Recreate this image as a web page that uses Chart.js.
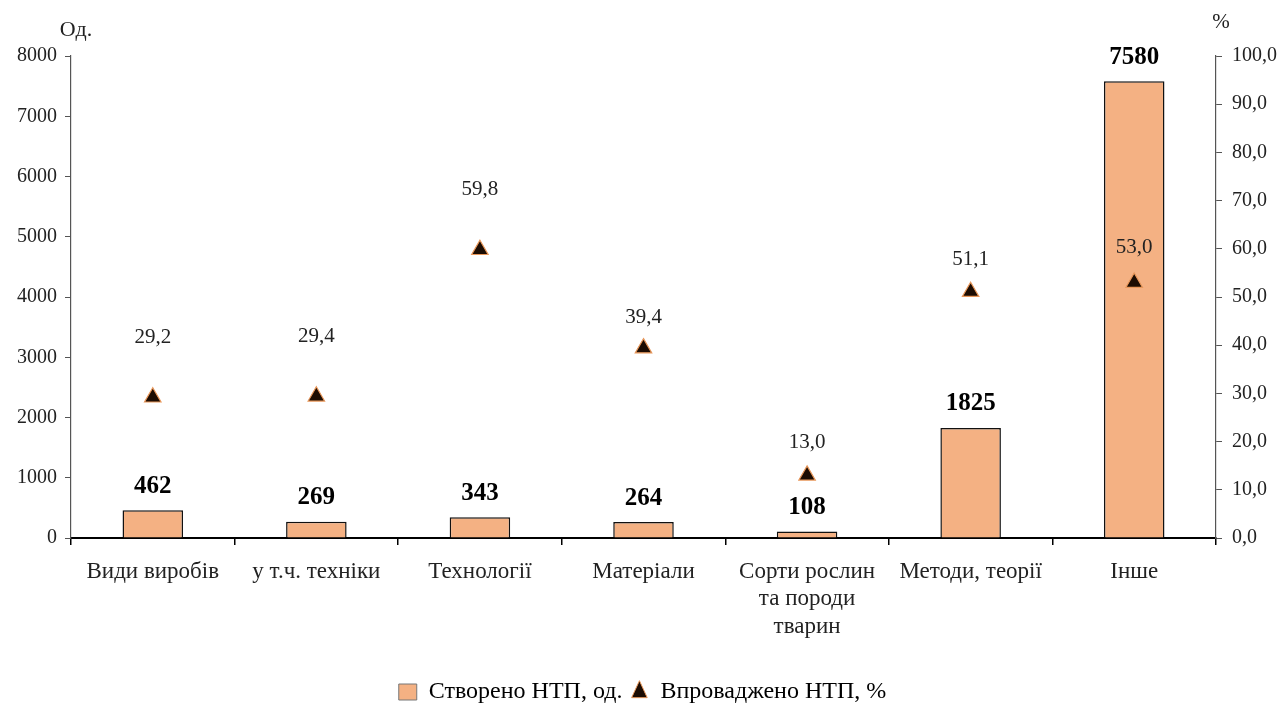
<!DOCTYPE html>
<html><head><meta charset="utf-8">
<script src="https://cdn.jsdelivr.net/npm/chart.js@4.4.1/dist/chart.umd.min.js"></script>
<style>html,body{margin:0;padding:0;background:#fff}#w{width:1285px;height:708px}</style>
</head><body><div id="w"><canvas id="c" width="1285" height="708"></canvas></div>
<script>
const categories = ["Види виробів", "у т.ч. техніки", "Технології", "Матеріали", ["Сорти рослин", "та породи", "тварин"], "Методи, теорії", "Інше"];
const createdUnits = [462, 269, 343, 264, 108, 1825, 7580];
const implementedPct = [29.2, 29.4, 59.8, 39.4, 13.0, 51.1, 53.0];
const leftTicks = [0, 1000, 2000, 3000, 4000, 5000, 6000, 7000, 8000];
const rightTicks = [0, 10, 20, 30, 40, 50, 60, 70, 80, 90, 100];
const seriesNames = ["Створено НТП, од.", "Впроваджено НТП, %"];
const pctLabelGap = [60, 60, 60, 31, 33, 32, 35];

const FONT = "'Liberation Serif', 'Times New Roman', serif";
const BAR = '#F4B183';
const TRI = '#1c0c02';
const TRI_EDGE = '#E8975A';

const labelsPlugin = {
  id: 'labels',
  afterDatasetsDraw(chart) {
    const ctx = chart.ctx;
    ctx.save();
    ctx.textAlign = 'center';
    ctx.textBaseline = 'middle';
    const bars = chart.getDatasetMeta(0).data;
    ctx.font = 'bold 25px ' + FONT;
    ctx.fillStyle = '#000';
    bars.forEach((b, i) => {
      ctx.fillText(String(createdUnits[i]), b.x, b.y - 24);
    });
    const pts = chart.getDatasetMeta(1).data;
    ctx.font = '21px ' + FONT;
    ctx.fillStyle = '#222';
    pts.forEach((p, i) => {
      ctx.fillText(implementedPct[i].toFixed(1).replace('.', ','), p.x, p.y - pctLabelGap[i]);
    });
    const a = chart.chartArea;
    ctx.font = '22px ' + FONT;
    ctx.fillText('Од.', a.left + 5, 30);
    ctx.font = '21px ' + FONT;
    ctx.fillText('%', a.right + 5, 22);
    ctx.restore();
  }
};

new Chart(document.getElementById('c'), {
  data: {
    labels: categories,
    datasets: [
      {
        type: 'bar', label: seriesNames[0], data: createdUnits, yAxisID: 'y',
        backgroundColor: BAR, borderColor: '#111', borderWidth: 1.5,
        borderSkipped: 'bottom', categoryPercentage: 1, barPercentage: 0.37, order: 2
      },
      {
        type: 'line', label: seriesNames[1], data: implementedPct, yAxisID: 'y1',
        showLine: false, pointStyle: 'triangle', pointRadius: 9.5, pointHoverRadius: 9.5,
        backgroundColor: TRI, borderColor: TRI_EDGE, pointBorderWidth: 1.2, order: 1
      }
    ]
  },
  options: {
    responsive: false, animation: false,
    layout: { padding: { top: 56, bottom: -6, left: 0, right: 0 } },
    plugins: {
      tooltip: { enabled: false },
      legend: {
        position: 'bottom',
        labels: {
          font: { family: FONT, size: 24 }, color: '#222', padding: 8,
          boxWidth: 16, boxHeight: 16,
          generateLabels(chart) {
            return [
              { text: seriesNames[0], fillStyle: BAR, strokeStyle: '#777', lineWidth: 1, datasetIndex: 0, pointStyle: 'rect' },
              { text: seriesNames[1], fillStyle: TRI, strokeStyle: TRI_EDGE, lineWidth: 1, datasetIndex: 1, pointStyle: 'triangle' }
            ];
          },
          usePointStyle: true, pointStyleWidth: 18
        }
      }
    },
    scales: {
      x: {
        offset: true,
        grid: { display: true, drawOnChartArea: false, offset: true, tickLength: 7, color: '#000', lineWidth: 1.5 },
        border: { display: true, color: '#000', width: 2 },
        ticks: { font: { family: FONT, size: 23 }, color: '#222', padding: 13, maxRotation: 0, autoSkip: false },
        afterFit(s) { s.height = 134; }
      },
      y: {
        position: 'left', min: 0, max: 8000,
        afterBuildTicks(s) { s.ticks = leftTicks.map(v => ({ value: v })); },
        grid: { display: true, drawOnChartArea: false, tickLength: 6, color: '#555' },
        border: { display: true, color: '#555', width: 1.2 },
        ticks: { font: { family: FONT, size: 20 }, color: '#222', padding: 8, callback: v => String(v) },
        afterFit(s) { s.width = 71; }
      },
      y1: {
        position: 'right', min: 0, max: 100,
        afterBuildTicks(s) { s.ticks = rightTicks.map(v => ({ value: v })); },
        grid: { display: true, drawOnChartArea: false, tickLength: 6, color: '#555' },
        border: { display: true, color: '#555', width: 1.2 },
        ticks: { font: { family: FONT, size: 20 }, color: '#222', padding: 10,
          callback: v => Number(v).toFixed(1).replace('.', ',') },
        afterFit(s) { s.width = 69; }
      }
    }
  },
  plugins: [labelsPlugin]
});
</script></body></html>
